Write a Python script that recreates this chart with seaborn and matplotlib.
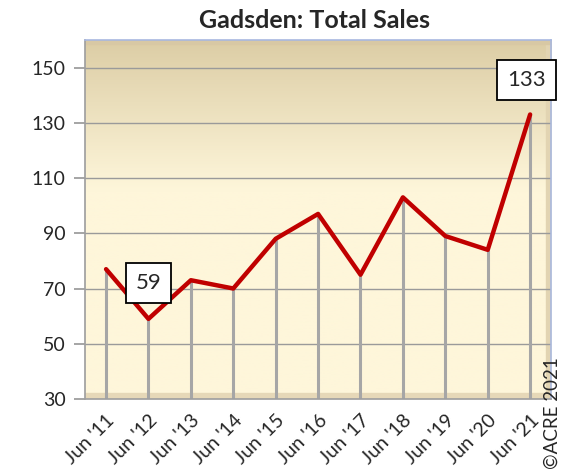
import matplotlib.pyplot as plt
import seaborn as sns
import numpy as np
import pandas as pd

sns.set_theme(style="white")
plt.rcParams['font.family'] = ['Lato', 'DejaVu Sans']

labels = ["Jun '11", "Jun '12", "Jun '13", "Jun '14", "Jun '15", "Jun '16",
          "Jun '17", "Jun '18", "Jun '19", "Jun '20", "Jun '21"]
sales = [77, 59, 73, 70, 88, 97, 75, 103, 89, 84, 133]
yticks = [30, 50, 70, 90, 110, 130, 150]

df = pd.DataFrame({'pos': np.arange(len(labels)), 'sales': sales})

fig = plt.figure(figsize=(5.62, 4.75), dpi=100)
ax = fig.add_axes([0.151, 0.16, 0.83, 0.756])
n = len(labels)

# background: tan at the top fading into cream by ~40% down
top_c = np.array([220, 205, 165]) / 255
bot_c = np.array([254, 246, 218]) / 255
t = np.clip(np.linspace(0, 1, 256) / 0.42, 0, 1)[:, None]
grad = (top_c * (1 - t) + bot_c * t)[:, None, :]
ax.imshow(grad, extent=[-0.5, n - 0.5, 30, 160], aspect='auto', zorder=0)
ax.set_xlim(-0.5, n - 0.5)
ax.set_ylim(30, 160)
ax.axhspan(30, 32.2, color='#e6d8b8', zorder=0.5)
ax.axvspan(n - 0.62, n - 0.5, color='#e2d4b2', zorder=0.5)
ax.axhspan(158.5, 160, color='#d8c8a4', zorder=0.5)

for y in yticks[1:]:
    ax.axhline(y, color='#9a9a9a', lw=1.0, zorder=1)

ax.vlines(df['pos'], 30, df['sales'], color='#a6a6a6', lw=2.2, zorder=2)
sns.lineplot(data=df, x='pos', y='sales', color='#c00000', lw=3.2, ax=ax, zorder=3)

ax.set_xticks(df['pos'])
ax.set_xticklabels(labels, rotation=45, ha='right', rotation_mode='anchor', fontsize=14)
ax.set_yticks(yticks)
ax.set_yticklabels([str(v) for v in yticks], fontsize=14)
ax.tick_params(axis='y', left=True, length=8, color='#9a9a9a', pad=6)
ax.tick_params(axis='x', bottom=False, pad=3)
ax.set_xlabel('')
ax.set_ylabel('')

for s in ['left', 'bottom']:
    ax.spines[s].set_color('#a0a0a0')
for s in ['top', 'right']:
    ax.spines[s].set_color('#a8b8e0')
    ax.spines[s].set_linewidth(1.2)

box = dict(boxstyle='square,pad=0.45', fc='white', ec='black', lw=1.3)
ax.text(1.0, 72, '59', fontsize=16, ha='center', va='center', bbox=box, zorder=5)
ax.text(9.92, 145.5, '133', fontsize=16, ha='center', va='center', bbox=box, zorder=5)

fig.suptitle('Gadsden: Total Sales', x=0.56, y=0.982, fontsize=18, fontweight='bold')
fig.text(0.997, 0.012, '©ACRE 2021', rotation=90, ha='right', va='bottom', fontsize=13.5)

fig.savefig('out.png', dpi=100)
